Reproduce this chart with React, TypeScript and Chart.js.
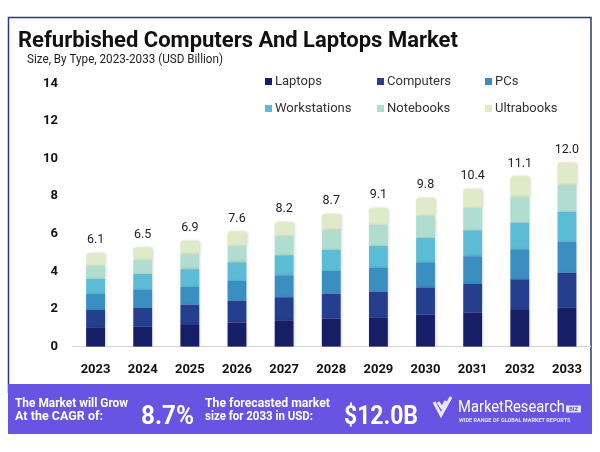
import React, { useEffect, useRef } from "react";
import { Chart, registerables } from "chart.js";

Chart.register(...registerables);

const years = ["2023", "2024", "2025", "2026", "2027", "2028", "2029", "2030", "2031", "2032", "2033"];
const totalLabels = ["6.1", "6.5", "6.9", "7.6", "8.2", "8.7", "9.1", "9.8", "10.4", "11.1", "12.0"];
const laptops = [1.03, 1.06, 1.15, 1.29, 1.41, 1.5, 1.56, 1.7, 1.8, 1.95, 2.07];
const computers = [0.92, 1.01, 1.08, 1.15, 1.22, 1.31, 1.36, 1.45, 1.54, 1.64, 1.86];
const pcs = [0.85, 0.94, 0.97, 1.06, 1.17, 1.22, 1.26, 1.34, 1.47, 1.59, 1.64];
const workstations = [0.8, 0.85, 0.92, 0.99, 1.06, 1.13, 1.18, 1.29, 1.38, 1.41, 1.61];
const notebooks = [0.71, 0.74, 0.8, 0.88, 1.01, 1.02, 1.13, 1.18, 1.18, 1.36, 1.4];
const ultrabooks = [0.66, 0.67, 0.71, 0.76, 0.76, 0.88, 0.88, 0.95, 1.02, 1.1, 1.2];

const seriesNames = ["Laptops", "Computers", "PCs", "Workstations", "Notebooks", "Ultrabooks"];
const seriesColors = ["#161e65", "#243f8e", "#3b8fc0", "#5cbcd5", "#b0ddd0", "#dfeac8"];
const seriesData = [laptops, computers, pcs, workstations, notebooks, ultrabooks];

const title = "Refurbished Computers And Laptops Market";
const subtitle = "Size, By Type, 2023-2033 (USD Billion)";
const cagrText = ["The Market will Grow", "At the CAGR of:"];
const cagrValue = "8.7%";
const forecastText = ["The forecasted market", "size for 2033 in USD:"];
const forecastValue = "$12.0B";
const brand = "MarketResearch";
const brandTag = "WIDE RANGE OF GLOBAL MARKET REPORTS";

const FONT = "Roboto, 'Open Sans', sans-serif";
const BAND = "#6853e2";

function txt(ctx: CanvasRenderingContext2D, s: string, x: number, y: number, font: string, color: string, maxW?: number, align: CanvasTextAlign = "left", base: CanvasTextBaseline = "middle") {
  ctx.save();
  ctx.font = font;
  ctx.fillStyle = color;
  ctx.textAlign = align;
  ctx.textBaseline = base;
  const w = ctx.measureText(s).width;
  if (maxW && w > maxW) ctx.fillText(s, x, y, maxW);
  else ctx.fillText(s, x, y);
  ctx.restore();
}

const decorPlugin = {
  id: "decor",
  beforeDraw(chart: any) {
    const ctx: CanvasRenderingContext2D = chart.ctx;
    ctx.save();
    ctx.fillStyle = "#ffffff";
    ctx.fillRect(0, 0, chart.width, chart.height);
    ctx.strokeStyle = "#2b3a78";
    ctx.lineWidth = 1.5;
    ctx.strokeRect(8.5, 17.5, 582.5, 375);
    ctx.fillStyle = BAND;
    ctx.fillRect(8, 384, 584, 50);
    ctx.restore();
  },
  beforeDatasetsDraw(chart: any) {
    const ctx: CanvasRenderingContext2D = chart.ctx;
    ctx.save();
    ctx.shadowColor = "rgba(0,0,0,0.18)";
    ctx.shadowBlur = 3;
    ctx.shadowOffsetX = 1;
    ctx.shadowOffsetY = 0;
  },
  afterDatasetsDraw(chart: any) {
    chart.ctx.restore();
  },
  afterDraw(chart: any) {
    const ctx: CanvasRenderingContext2D = chart.ctx;
    // title
    txt(ctx, title, 18, 47, `bold 22px ${FONT}`, "#111111", 442, "left", "alphabetic");
    txt(ctx, subtitle, 27, 60, `12px ${FONT}`, "#222222", 196);
    // legend
    const cols = [265, 377, 485];
    const rows = [81.5, 108.5];
    seriesNames.forEach((n, i) => {
      const cx = cols[i % 3];
      const cy = rows[Math.floor(i / 3)];
      ctx.fillStyle = seriesColors[i];
      ctx.fillRect(cx, cy - 3.5, 7, 7);
      txt(ctx, n, cx + 10, cy, `13px ${FONT}`, "#333333");
    });
    // value labels
    const meta = chart.getDatasetMeta(seriesData.length - 1);
    meta.data.forEach((bar: any, i: number) => {
      txt(ctx, totalLabels[i], bar.x, bar.y - 13, `12.5px ${FONT}`, "#222222", undefined, "center");
    });
    // band text
    txt(ctx, cagrText[0], 15, 404, `bold 13px ${FONT}`, "#ffffff", 113);
    txt(ctx, cagrText[1], 15, 417, `bold 13px ${FONT}`, "#ffffff", 88);
    txt(ctx, cagrValue, 141, 423.5, `bold 26px ${FONT}`, "#ffffff", 53, "left", "alphabetic");
    txt(ctx, forecastText[0], 205, 404, `bold 13px ${FONT}`, "#ffffff", 125);
    txt(ctx, forecastText[1], 205, 417, `bold 13px ${FONT}`, "#ffffff", 108);
    txt(ctx, forecastValue, 344, 423.5, `bold 26px ${FONT}`, "#ffffff", 74, "left", "alphabetic");
    // logo check
    ctx.save();
    ctx.strokeStyle = "#ece8ff";
    ctx.lineWidth = 3;
    ctx.lineJoin = "miter";
    ctx.beginPath();
    ctx.moveTo(434, 402);
    ctx.lineTo(441, 415);
    ctx.lineTo(451, 397);
    ctx.stroke();
    ctx.beginPath();
    ctx.moveTo(438, 402);
    ctx.lineTo(442, 408);
    ctx.lineTo(446, 401);
    ctx.stroke();
    ctx.restore();
    txt(ctx, brand, 458, 412, `17px ${FONT}`, "#ffffff", 107, "left", "alphabetic");
    ctx.save();
    ctx.fillStyle = "#e6e2f7";
    ctx.fillRect(566, 405.5, 15, 7);
    ctx.restore();
    txt(ctx, "BIZ", 573.5, 409.2, `bold 6px ${FONT}`, BAND, 13, "center");
    txt(ctx, brandTag, 459, 421, `bold 5.5px ${FONT}`, "#e6e2f7", 123);
  },
};

export default function App() {
  const ref = useRef<HTMLCanvasElement | null>(null);
  useEffect(() => {
    if (!ref.current) return;
    const chart = new Chart(ref.current, {
      type: "bar",
      data: {
        labels: years,
        datasets: seriesNames.map((n, i) => ({
          label: n,
          data: seriesData[i],
          backgroundColor: seriesColors[i],
          barPercentage: 0.4,
          categoryPercentage: 1,
          borderRadius: i === seriesNames.length - 1 ? { topLeft: 3, topRight: 3, bottomLeft: 0, bottomRight: 0 } : 0,
          borderSkipped: false,
        })),
      },
      options: {
        responsive: false,
        animation: false,
        devicePixelRatio: 1,
        layout: { padding: { top: 83.4, right: 9.5, bottom: 75.3, left: 0 } },
        plugins: { legend: { display: false }, tooltip: { enabled: false }, title: { display: false } },
        scales: {
          x: {
            stacked: true,
            grid: { display: false, drawTicks: false },
            border: { display: true, color: "#d5d5d5", width: 1 },
            ticks: { color: "#111111", font: { family: FONT, size: 13, weight: "bold" }, padding: 15, maxRotation: 0 },
            afterFit: (s: any) => { s.height = 30; },
          },
          y: {
            stacked: true,
            min: 0,
            max: 14,
            grid: { display: false, drawTicks: false },
            border: { display: false },
            ticks: { stepSize: 2, color: "#111111", font: { family: FONT, size: 13, weight: "bold" }, padding: 14 },
            afterFit: (s: any) => { s.width = 72; },
          },
        },
      },
      plugins: [decorPlugin],
    } as any);
    return () => chart.destroy();
  }, []);
  return (
    <div style={{ position: "absolute", left: 0, top: 0, width: 600, height: 452, background: "#fff" }}>
      <canvas ref={ref} width={600} height={452} />
    </div>
  );
}
